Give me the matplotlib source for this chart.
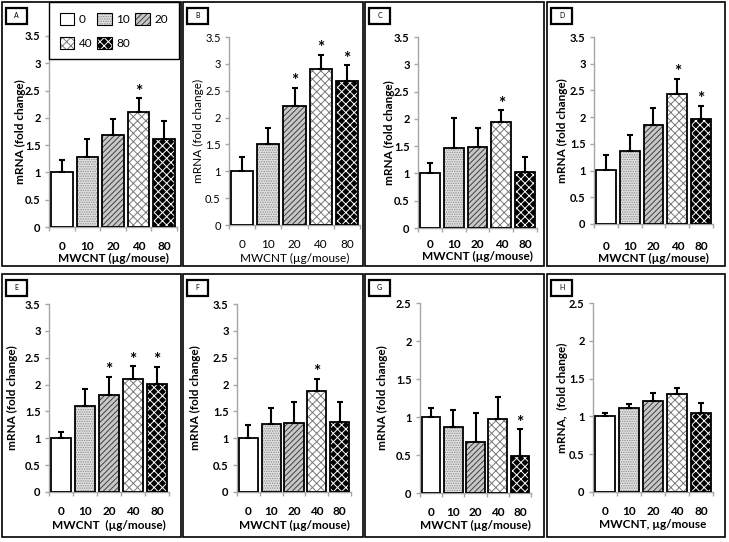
import numpy as np
import matplotlib.pyplot as plt
from matplotlib.patches import Patch, Rectangle
from matplotlib.legend_handler import HandlerTuple

W, H = 729, 542
plt.rcParams['font.family'] = ['Lato', 'DejaVu Sans']
plt.rcParams['hatch.linewidth'] = 0.7

# ---- data ----
doses = ['0', '10', '20', '40', '80']
panel_ids = ['A', 'B', 'C', 'D', 'E', 'F', 'G', 'H']

mean_A = [1.00, 1.29, 1.69, 2.10, 1.61]
err_A = [0.22, 0.33, 0.29, 0.26, 0.33]
mean_B = [1.00, 1.50, 2.21, 2.90, 2.68]
err_B = [0.27, 0.30, 0.34, 0.27, 0.29]
mean_C = [1.01, 1.47, 1.49, 1.95, 1.03]
err_C = [0.19, 0.55, 0.35, 0.21, 0.28]
mean_D = [1.01, 1.37, 1.86, 2.43, 1.97]
err_D = [0.29, 0.30, 0.31, 0.29, 0.24]
mean_E = [1.01, 1.61, 1.81, 2.10, 2.01]
err_E = [0.11, 0.31, 0.33, 0.24, 0.32]
mean_F = [1.01, 1.27, 1.29, 1.88, 1.31]
err_F = [0.23, 0.29, 0.39, 0.23, 0.37]
mean_G = [1.00, 0.87, 0.67, 0.97, 0.49]
err_G = [0.12, 0.22, 0.38, 0.29, 0.35]
mean_H = [1.00, 1.11, 1.20, 1.29, 1.05]
err_H = [0.05, 0.06, 0.11, 0.08, 0.13]

# indices of doses marked with *
sig_A = [3]
sig_B = [2, 3, 4]
sig_C = [3]
sig_D = [3, 4]
sig_E = [2, 3, 4]
sig_F = [3]
sig_G = [4]
sig_H = []

ymax = [3.5, 3.5, 3.5, 3.5, 3.5, 3.5, 2.5, 2.5]
ylabels = ['mRNA (fold change)'] * 7 + ['mRNA,  (fold change)']
xlabels = ['MWCNT (µg/mouse)'] * 4 + ['MWCNT  (µg/mouse)'] + ['MWCNT (µg/mouse)'] * 2 + ['MWCNT, µg/mouse']

means = [mean_A, mean_B, mean_C, mean_D, mean_E, mean_F, mean_G, mean_H]
errs = [err_A, err_B, err_C, err_D, err_E, err_F, err_G, err_H]
sigs = [sig_A, sig_B, sig_C, sig_D, sig_E, sig_F, sig_G, sig_H]

# ---- layout in pixels ----
axes_px = [(49, 36, 177, 227), (229, 37, 360, 225), (418, 37, 537, 228), (594, 37, 713, 224),
           (49, 304, 169, 492), (237, 304, 351, 492), (420, 303, 531, 493), (593, 303, 713, 492)]
frame_px = [(2, 2, 181, 266), (183, 2, 363, 266), (365, 2, 544, 266), (547, 2, 725, 266),
            (2, 274, 181, 537), (183, 274, 363, 537), (365, 274, 544, 537), (547, 274, 725, 537)]
xtick_y = [246, 244, 244, 246, 511, 511, 512, 511]
xlabel_y = [258, 258, 256, 258, 525, 525, 525, 525]
ylabel_x = [20, 198, 389, 562, 12, 195, 382, 562]
bold = [True, False, True, True, True, True, True, True]

# fill, hatch, hatch colour per dose
styles = [('white', '', 'white'),
          ('#e2e2e2', '.......', '#8c8c8c'),
          ('#c8c8c8', '//////', '#404040'),
          ('white', 'xxxx', '#7a7a7a'),
          ('black', 'xxxx', 'white')]

gray = '#a6a6a6'


def fx(px):
    return px / W


def fy(py):
    return 1 - py / H


fig = plt.figure(figsize=(W / 100, H / 100), dpi=100)

for k in range(8):
    l, t, r, b = axes_px[k]
    ax = fig.add_axes([fx(l), fy(b), (r - l) / W, (b - t) / H])
    weight = 'bold' if bold[k] else 'normal'
    x = np.arange(len(doses))
    m = np.array(means[k])
    e = np.array(errs[k])

    for i in range(len(doses)):
        fc, hatch, hc = styles[i]
        ax.bar(x[i], m[i], width=0.84, color=fc, edgecolor=hc, hatch=hatch, linewidth=0, zorder=2)
    ax.bar(x, m, width=0.84, fill=False, edgecolor='black', linewidth=1.3, zorder=3)
    ax.errorbar(x, m, yerr=[np.zeros(len(m)), e], fmt='none', ecolor='black',
                elinewidth=1.5, capsize=2.5, capthick=1.5, zorder=4)
    for i in sigs[k]:
        ax.annotate('*', (x[i], m[i] + e[i]), xytext=(0, -1), textcoords='offset points',
                    ha='center', va='bottom', fontsize=12.5, fontweight='bold')

    ax.set_xlim(-0.5, len(doses) - 0.5)
    ax.set_ylim(0, ymax[k])
    yt = np.arange(0, ymax[k] + 0.01, 0.5)
    ax.set_yticks(yt, [f'{v:g}' for v in yt], fontsize=8, fontweight=weight)
    ax.tick_params(axis='y', direction='out', length=3, width=1, color=gray, pad=3)
    pad_pt = (xtick_y[k] - b - 5) * 0.72
    ax.set_xticks(x, doses, fontsize=8.5, fontweight=weight)
    ax.tick_params(axis='x', length=0, pad=pad_pt)
    ax.set_xticks(np.arange(-0.5, len(doses)), minor=True)
    ax.tick_params(axis='x', which='minor', direction='out', length=3, width=1, color=gray)
    for s in ['top', 'right']:
        ax.spines[s].set_visible(False)
    for s in ['left', 'bottom']:
        ax.spines[s].set_color(gray)
        ax.spines[s].set_linewidth(1)

    fig.text(fx((l + r) / 2), fy(xlabel_y[k]), xlabels[k], ha='center', va='center',
             fontsize=8.5, fontweight=weight)
    fig.text(fx(ylabel_x[k]), fy((t + b) / 2), ylabels[k], ha='center', va='center',
             rotation=90, fontsize=8.5, fontweight=weight)

    # panel frame and letter box
    fl, ft, fr, fb = frame_px[k]
    fig.patches.append(Rectangle((fx(fl), fy(fb)), (fr - fl) / W, (fb - ft) / H, fill=False,
                                 edgecolor='black', linewidth=1.2, transform=fig.transFigure))
    fig.patches.append(Rectangle((fx(fl + 4), fy(ft + 22)), 21 / W, 16 / H, fill=False,
                                 edgecolor='black', linewidth=1.6, transform=fig.transFigure))
    fig.text(fx(fl + 14.5), fy(ft + 14), panel_ids[k], ha='center', va='center', fontsize=5)

# legend (panel A)
handles = []
for fc, hatch, hc in styles:
    p1 = Patch(facecolor=fc, edgecolor=hc, hatch=hatch, linewidth=0)
    p2 = Patch(facecolor='none', edgecolor='black', linewidth=0.8)
    handles.append((p1, p2))
order = [0, 3, 1, 4, 2]
leg = fig.legend([handles[i] for i in order], [doses[i] for i in order],
                 handler_map={tuple: HandlerTuple(ndivide=1)}, ncol=3,
                 loc='upper left', bbox_to_anchor=(fx(49), fy(2)),
                 fontsize=8.5, handlelength=1.2, handleheight=1.2, handletextpad=0.4,
                 columnspacing=0.45, labelspacing=1.0, borderpad=0.9, borderaxespad=0,
                 fancybox=False, framealpha=1)
leg.get_frame().set_edgecolor('black')
leg.get_frame().set_linewidth(1)

fig.savefig('out.png', dpi=100)
